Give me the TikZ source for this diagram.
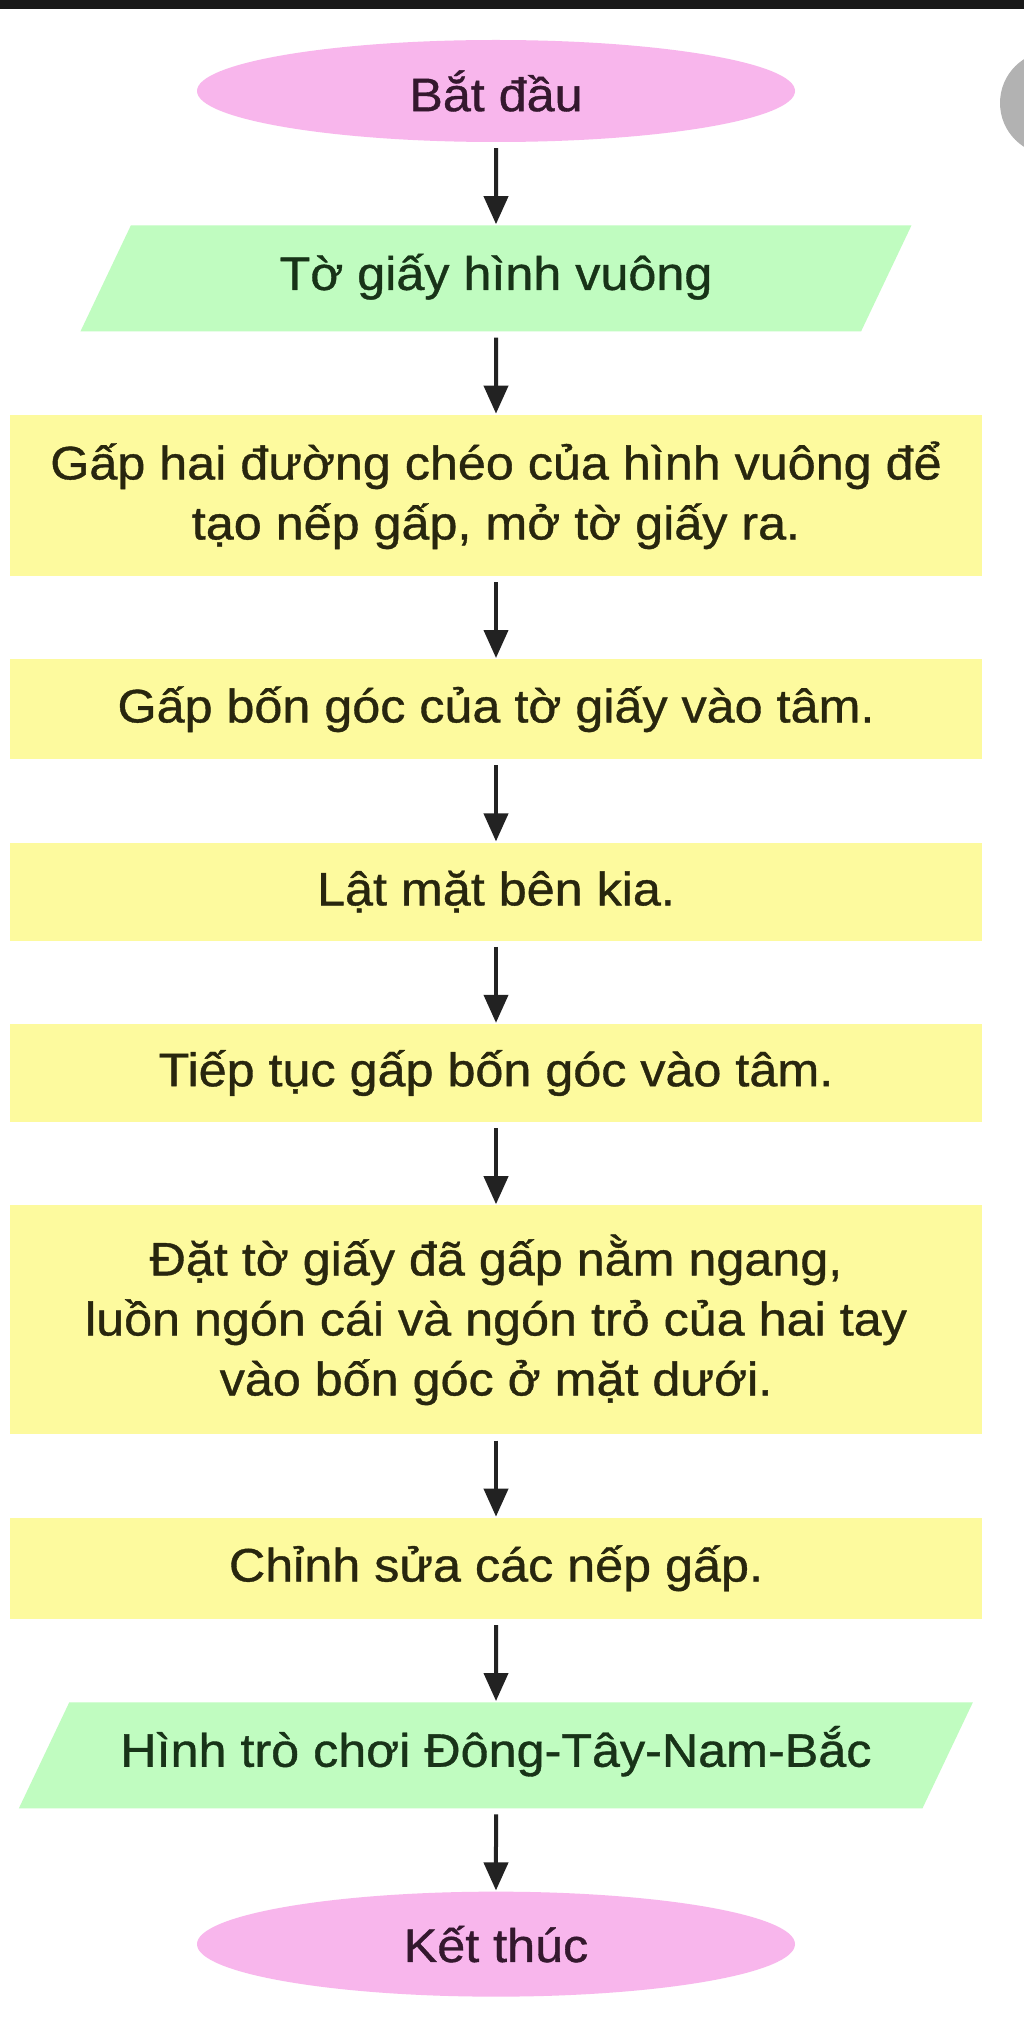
\documentclass[tikz,border=0pt]{standalone}
\usepackage{fontspec}
\setmainfont{Liberation Sans}[FakeStretch=1.07,FakeBold=0.8]
\usepackage{tikz}
\usetikzlibrary{arrows.meta,shapes.geometric,positioning}
\definecolor{pinkfill}{HTML}{F8B6EC}
\definecolor{pinktext}{HTML}{34182E}
\definecolor{greenfill}{HTML}{C0FCC0}
\definecolor{greentext}{HTML}{183318}
\definecolor{yellowfill}{HTML}{FDFA9E}
\definecolor{yellowtext}{HTML}{28260E}
\definecolor{arrowgray}{HTML}{222222}

\begin{document}
\begin{tikzpicture}[x=1pt,y=1pt,node distance=83pt,
           every node/.style={font=\fontsize{47}{60}\selectfont,inner sep=0pt,align=center},
           terminal/.style={ellipse,fill=pinkfill,text=pinktext,minimum width=598pt,minimum height=102pt},
           io/.style={trapezium,trapezium left angle=43,trapezium right angle=137,
             trapezium stretches body,text height=35pt,text depth=12pt,
             fill=greenfill,text=greentext,minimum height=106pt},
           process/.style={rectangle,fill=yellowfill,text=yellowtext,minimum width=972pt},
           flow/.style={-{Triangle[length=28pt,width=24pt]},line width=4pt,draw=arrowgray,
             shorten <=6pt,shorten >=1pt}]
           \useasboundingbox[fill=white] (0,0) rectangle (1024,-2025);
           % screen edge
           \fill[black!90] (0,0) rectangle (1024,-9);
           \begin{scope}
             \clip (0,0) rectangle (1024,-2025);
             \fill[gray!60] (1052,-103) circle (52);
           \end{scope}
           \node [terminal] (start) at (496,-91) {Bắt đầu};
           \node [io,minimum width=831pt,below=of start] (paper) {Tờ giấy hình vuông};
           \node [process,minimum height=161pt,below=of paper] (diagonals)
             {Gấp hai đường chéo của hình vuông để\\tạo nếp gấp, mở tờ giấy ra.};
           \node [process,minimum height=100pt,below=of diagonals] (corners) {Gấp bốn góc của tờ giấy vào tâm.};
           \node [process,minimum height=98pt,below=of corners] (flip) {Lật mặt bên kia.};
           \node [process,minimum height=98pt,below=of flip] (cornersagain) {Tiếp tục gấp bốn góc vào tâm.};
           \node [process,minimum height=229pt,below=of cornersagain] (fingers)
             {Đặt tờ giấy đã gấp nằm ngang,\\luồn ngón cái và ngón trỏ của hai tay\\vào bốn góc ở mặt dưới.};
           \node [process,minimum height=101pt,below=of fingers] (creases) {Chỉnh sửa các nếp gấp.};
           \node [io,minimum width=954pt,below=of creases] (game) {Hình trò chơi Đông-Tây-Nam-Bắc};
           \node [terminal,minimum height=105pt,below=of game] (stop) {Kết thúc};
           \draw [flow] (start) -- (paper);
           \draw [flow] (paper) -- (diagonals);
           \draw [flow] (diagonals) -- (corners);
           \draw [flow] (corners) -- (flip);
           \draw [flow] (flip) -- (cornersagain);
           \draw [flow] (cornersagain) -- (fingers);
           \draw [flow] (fingers) -- (creases);
           \draw [flow] (creases) -- (game);
           \draw [flow] (game) -- (stop);
      \end{tikzpicture}
\end{document}
